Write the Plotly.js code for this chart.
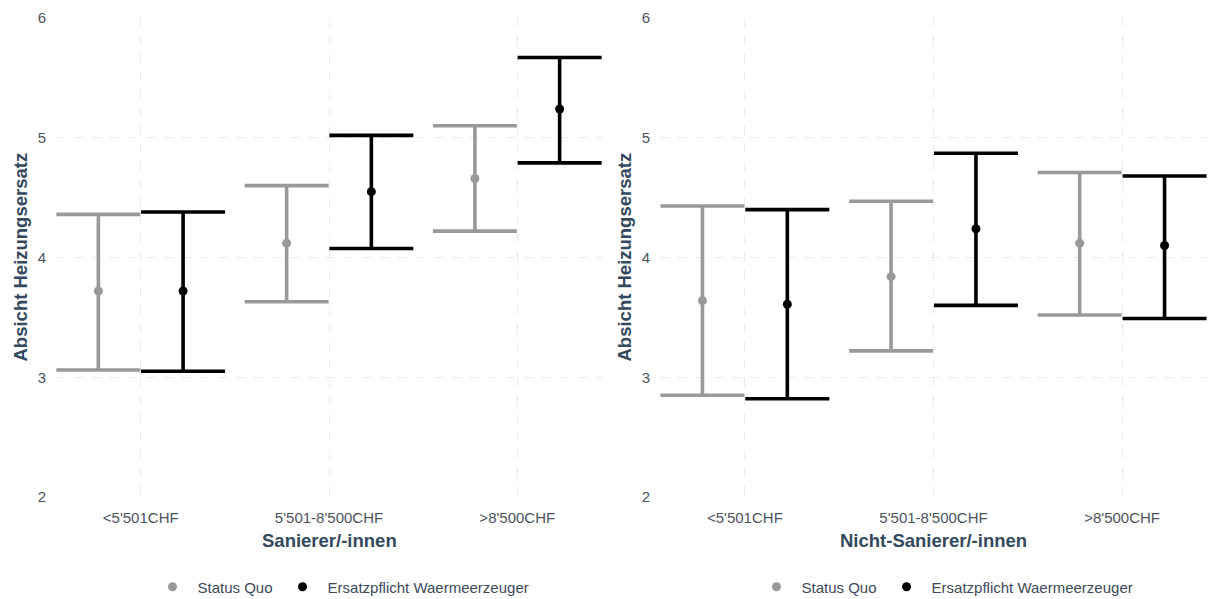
<!DOCTYPE html>
<html>
<head>
<meta charset="utf-8">
<script src="https://cdn.plot.ly/plotly-3.0.1.min.js"></script>
<style>html,body{margin:0;padding:0;background:#fff;}#chart{width:1209px;height:599px;}</style>
</head>
<body>
<div id="chart"></div>
<script>
const categories = ["<5'501CHF", "5'501-8'500CHF", ">8'500CHF"];
const seriesNames = ["Status Quo", "Ersatzpflicht Waermeerzeuger"];
const panelTitles = ["Sanierer/-innen", "Nicht-Sanierer/-innen"];
const yTitle = "Absicht Heizungsersatz";
const yTicks = [2, 3, 4, 5, 6];

// Sanierer/-innen
const sqMeanSan = [3.72, 4.12, 4.66];
const sqLowSan  = [3.06, 3.63, 4.22];
const sqUpSan   = [4.36, 4.60, 5.10];
const epMeanSan = [3.72, 4.55, 5.24];
const epLowSan  = [3.05, 4.075, 4.79];
const epUpSan   = [4.38, 5.02, 5.67];

// Nicht-Sanierer/-innen
const sqMeanNSan = [3.64, 3.84, 4.12];
const sqLowNSan  = [2.85, 3.22, 3.52];
const sqUpNSan   = [4.43, 4.47, 4.71];
const epMeanNSan = [3.61, 4.24, 4.10];
const epLowNSan  = [2.82, 3.60, 3.49];
const epUpNSan   = [4.40, 4.87, 4.68];

const colors = ["#999999", "#000000"];
const dodge = 0.225;
const catIdx = categories.map((c, i) => i + 1);

function mk(mean, low, up, s, xa, ya, legendId) {
  return {
    type: 'scatter', mode: 'markers',
    x: catIdx.map(v => v + (s === 0 ? -dodge : dodge)),
    y: mean,
    name: seriesNames[s],
    xaxis: xa, yaxis: ya,
    legend: legendId,
    marker: {color: colors[s], size: 9},
    error_y: {
      type: 'data', symmetric: false,
      array: up.map((u, i) => u - mean[i]),
      arrayminus: low.map((l, i) => mean[i] - l),
      color: colors[s], thickness: 3.6, width: 42
    },
    hoverinfo: 'x+y'
  };
}

const data = [
  mk(sqMeanSan, sqLowSan, sqUpSan, 0, 'x', 'y', 'legend'),
  mk(epMeanSan, epLowSan, epUpSan, 1, 'x', 'y', 'legend'),
  mk(sqMeanNSan, sqLowNSan, sqUpNSan, 0, 'x2', 'y2', 'legend2'),
  mk(epMeanNSan, epLowNSan, epUpNSan, 1, 'x2', 'y2', 'legend2')
];

const W = 1209, H = 599;
const fontFam = '"Liberation Sans", Arial, sans-serif';
const tickFont = {family: fontFam, size: 15, color: '#4D5360'};
const titleColor = '#34495E';

function xa(d0, d1, anchor) {
  return {
    domain: [d0, d1], anchor: anchor, range: [0.55, 3.45],
    tickvals: catIdx, ticktext: categories,
    showgrid: true, gridcolor: '#EBEBEB', griddash: 'dash', gridwidth: 1,
    zeroline: false, showline: false, ticks: '',
    tickfont: tickFont, automargin: false, ticklabelstandoff: 10, fixedrange: true
  };
}
function ya(anchor) {
  return {
    domain: [0, 1], anchor: anchor, range: [2, 6],
    tickvals: yTicks,
    showgrid: true, gridcolor: '#EBEBEB', griddash: 'dash', gridwidth: 1,
    zeroline: false, showline: false, ticks: '',
    tickfont: tickFont, automargin: false, ticklabelstandoff: 9, fixedrange: true
  };
}

const legendBase = {
  orientation: 'h', xanchor: 'center', yanchor: 'middle',
  xref: 'container', yref: 'container', y: 1 - 587 / H,
  font: {family: fontFam, size: 15, color: '#3D4A5C'},
  itemwidth: 40,
  bgcolor: 'rgba(0,0,0,0)', itemclick: false, itemdoubleclick: false
};

const layout = {
  width: W, height: H,
  margin: {l: 0, r: 0, t: 18, b: 101.5, autoexpand: false},
  paper_bgcolor: '#ffffff', plot_bgcolor: '#ffffff',
  showlegend: true,
  xaxis: xa(56 / W, 602 / W, 'y'),
  yaxis: ya('x'),
  xaxis2: xa(660 / W, 1207 / W, 'y2'),
  yaxis2: ya('x2'),
  legend: Object.assign({}, legendBase, {x: 341 / W}),
  legend2: Object.assign({}, legendBase, {x: 945 / W}),
  annotations: [
    {text: '<b>' + panelTitles[0] + '</b>', xref: 'paper', yref: 'paper', x: 329 / W, y: -0.09, xanchor: 'center', yanchor: 'middle', showarrow: false, font: {family: fontFam, size: 18.5, color: titleColor}},
    {text: '<b>' + panelTitles[1] + '</b>', xref: 'paper', yref: 'paper', x: 933 / W, y: -0.09, xanchor: 'center', yanchor: 'middle', showarrow: false, font: {family: fontFam, size: 18.5, color: titleColor}},
    {text: '<b>' + yTitle + '</b>', xref: 'paper', yref: 'paper', x: 20 / W, y: 0.5, xanchor: 'center', yanchor: 'middle', textangle: -90, showarrow: false, font: {family: fontFam, size: 18.5, color: titleColor}},
    {text: '<b>' + yTitle + '</b>', xref: 'paper', yref: 'paper', x: 624 / W, y: 0.5, xanchor: 'center', yanchor: 'middle', textangle: -90, showarrow: false, font: {family: fontFam, size: 18.5, color: titleColor}}
  ]
};

Plotly.newPlot('chart', data, layout, {displayModeBar: false, staticPlot: true});
</script>
</body>
</html>
